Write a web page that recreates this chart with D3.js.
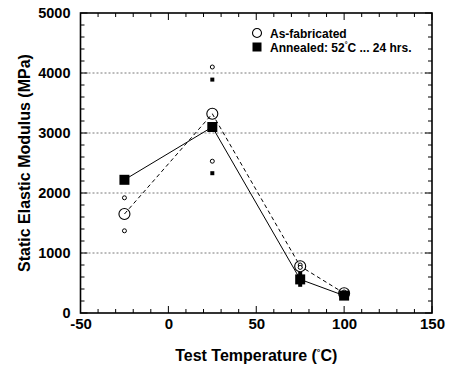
<!DOCTYPE html>
<html>
<head>
<meta charset="utf-8">
<script src="https://cdn.jsdelivr.net/npm/d3@7"></script>
<style>
  body { margin: 0; background: #fff; }
  svg text { font-family: "Liberation Sans", Arial, Helvetica, sans-serif; font-weight: bold; }
</style>
</head>
<body>
<svg id="chart" width="450" height="366"></svg>
<script>
// temperatures tested
const temps = [-25, 25, 75, 100];
// as-fabricated: mean and scatter (min/max)
const asFabMean = [1650, 3320, 780, 330];
const asFabHigh = [1920, 4100, 800, 350];
const asFabLow = [1370, 2530, 760, 320];
// annealed: mean and scatter
const annMean = [2220, 3100, 560, 290];
const annHigh = [2220, 3890, 650, 310];
const annLow = [2220, 2330, 470, 270];

const xTicks = [-50, 0, 50, 100, 150];
const yTicks = [0, 1000, 2000, 3000, 4000, 5000];
const gridVals = [1000, 2000, 3000, 4000];

const margin = { top: 13, right: 18, bottom: 53, left: 80.5 };
const width = 450 - margin.left - margin.right;
const height = 366 - margin.top - margin.bottom;

const svg = d3.select("#chart")
  .append("g")
  .attr("transform", `translate(${margin.left},${margin.top})`);

const x = d3.scaleLinear().domain([-50, 150]).range([0, width]);
const y = d3.scaleLinear().domain([0, 5000]).range([height, 0]);

// grid lines
svg.selectAll(".grid")
  .data(gridVals)
  .enter().append("line")
  .attr("x1", 0).attr("x2", width)
  .attr("y1", d => y(d)).attr("y2", d => y(d))
  .attr("stroke", "#555")
  .attr("stroke-width", 0.8)
  .attr("stroke-dasharray", "2,2");

// minor / major ticks on all four sides
const xMinor = d3.range(-50, 151, 10);
const yMinor = d3.range(0, 5001, 200);
const tickG = svg.append("g").attr("stroke", "#000").attr("stroke-width", 1);
xMinor.forEach(v => {
  const len = v % 50 === 0 ? 7 : 4;
  tickG.append("line").attr("x1", x(v)).attr("x2", x(v)).attr("y1", height).attr("y2", height - len);
  tickG.append("line").attr("x1", x(v)).attr("x2", x(v)).attr("y1", 0).attr("y2", len);
});
yMinor.forEach(v => {
  const len = v % 1000 === 0 ? 7 : 4;
  tickG.append("line").attr("y1", y(v)).attr("y2", y(v)).attr("x1", 0).attr("x2", len);
  tickG.append("line").attr("y1", y(v)).attr("y2", y(v)).attr("x1", width).attr("x2", width - len);
});

// frame
svg.append("rect")
  .attr("width", width).attr("height", height)
  .attr("fill", "none").attr("stroke", "#000").attr("stroke-width", 1.6);

// tick labels
const xAxis = svg.append("g")
  .attr("transform", `translate(0,${height})`)
  .call(d3.axisBottom(x).tickValues(xTicks).tickSize(0).tickPadding(5).tickFormat(d => String(d)));
xAxis.select(".domain").remove();
xAxis.selectAll("text").attr("font-size", 15).attr("fill", "#000");

const yAxis = svg.append("g")
  .call(d3.axisLeft(y).tickValues(yTicks).tickSize(0).tickPadding(10).tickFormat(d => String(d)));
yAxis.select(".domain").remove();
yAxis.selectAll("text").attr("font-size", 14.5).attr("fill", "#000");

// lines
const asFabData = temps.map((t, i) => ({ t, v: asFabMean[i] }));
const annData = temps.map((t, i) => ({ t, v: annMean[i] }));
const line = d3.line().x(d => x(d.t)).y(d => y(d.v));

svg.append("path").datum(asFabData)
  .attr("d", line).attr("fill", "none")
  .attr("stroke", "#000").attr("stroke-width", 1)
  .attr("stroke-dasharray", "4,3");
svg.append("path").datum(annData)
  .attr("d", line).attr("fill", "none")
  .attr("stroke", "#000").attr("stroke-width", 1);

// scatter markers
const smallPts = [];
temps.forEach((t, i) => {
  smallPts.push({ t, v: asFabHigh[i], kind: "c" }, { t, v: asFabLow[i], kind: "c" });
  smallPts.push({ t, v: annHigh[i], kind: "s" }, { t, v: annLow[i], kind: "s" });
});
svg.selectAll(".smallC").data(smallPts.filter(d => d.kind === "c"))
  .enter().append("circle")
  .attr("cx", d => x(d.t)).attr("cy", d => y(d.v)).attr("r", 2)
  .attr("fill", "#fff").attr("stroke", "#000").attr("stroke-width", 1);
svg.selectAll(".smallS").data(smallPts.filter(d => d.kind === "s"))
  .enter().append("rect")
  .attr("x", d => x(d.t) - 2).attr("y", d => y(d.v) - 2)
  .attr("width", 4).attr("height", 4).attr("fill", "#000");

// mean markers
svg.selectAll(".meanC").data(asFabData)
  .enter().append("circle")
  .attr("cx", d => x(d.t)).attr("cy", d => y(d.v)).attr("r", 5.5)
  .attr("fill", "#fff").attr("fill-opacity", 0).attr("stroke", "#000").attr("stroke-width", 1.1);
svg.selectAll(".meanS").data(annData)
  .enter().append("rect")
  .attr("x", d => x(d.t) - 5).attr("y", d => y(d.v) - 5)
  .attr("width", 10).attr("height", 10).attr("fill", "#000");

// legend
const lg = svg.append("g").attr("transform", `translate(${257 - margin.left},${33 - margin.top})`);
lg.append("circle").attr("cx", 0).attr("cy", 0).attr("r", 4.5)
  .attr("fill", "#fff").attr("stroke", "#000").attr("stroke-width", 1.1);
lg.append("text").attr("x", 13).attr("y", 4.5).attr("font-size", 12).text("As-fabricated");
lg.append("rect").attr("x", -4.5).attr("y", 9.5).attr("width", 9).attr("height", 9).attr("fill", "#000");
const t2 = lg.append("text").attr("x", 13).attr("y", 18.5).attr("font-size", 12);
t2.append("tspan").text("Annealed: 52");
t2.append("tspan").attr("font-size", 7).attr("dy", -5).text("°");
t2.append("tspan").attr("dy", 5).text("C ... 24 hrs.");

// axis titles
const xt = svg.append("text")
  .attr("x", x(50)).attr("y", height + 48)
  .attr("text-anchor", "middle").attr("font-size", 16);
xt.append("tspan").text("Test Temperature  (");
xt.append("tspan").attr("font-size", 9).attr("dy", -6).text("°");
xt.append("tspan").attr("dy", 6).text("C)");

svg.append("text")
  .attr("transform", `translate(${30 - margin.left},${height / 2}) rotate(-90)`)
  .attr("text-anchor", "middle").attr("font-size", 16)
  .text("Static Elastic Modulus (MPa)");
</script>
</body>
</html>
